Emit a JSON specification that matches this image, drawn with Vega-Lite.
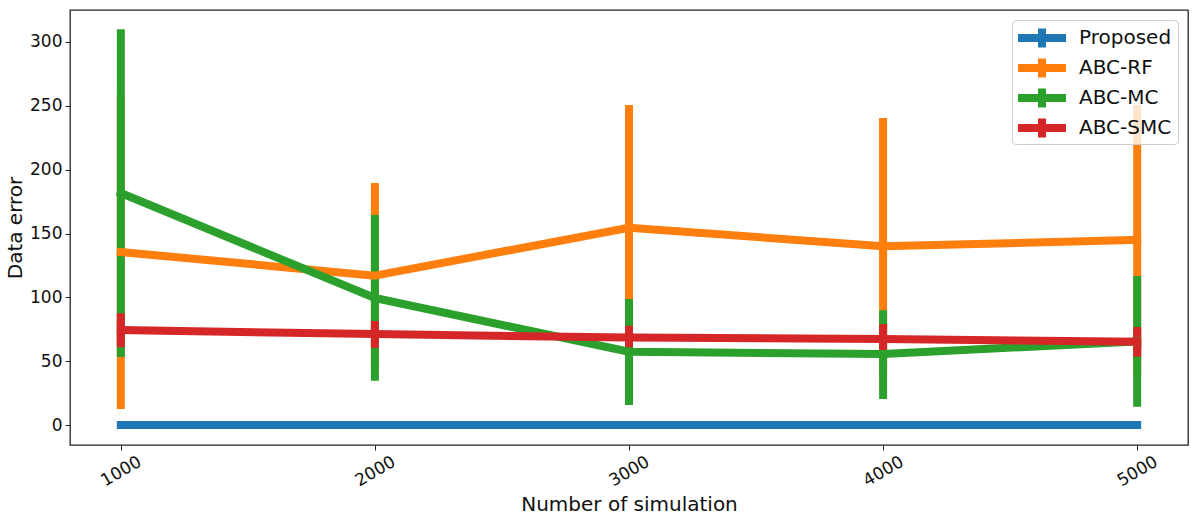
{
  "$schema": "https://vega.github.io/schema/vega-lite/v6.json",
  "autosize": {"type": "none"},
  "padding": {"left": 70, "top": 10, "right": 10, "bottom": 75},
  "width": 1118,
  "height": 435,
  "background": "white",
  "config": {
    "view": {"stroke": "#222", "strokeWidth": 1.3},
    "font": "DejaVu Sans",
    "axis": {
      "domain": false,
      "grid": false,
      "tickColor": "#222",
      "tickSize": 5,
      "tickWidth": 1,
      "labelColor": "#111",
      "labelFont": "DejaVu Sans",
      "labelFontSize": 17,
      "titleFont": "DejaVu Sans",
      "titleFontSize": 20,
      "titleFontWeight": "normal",
      "titleColor": "#111"
    }
  },
  "data": {
    "values": [
      {"series": "Proposed", "n": 1000, "err": 0, "lo": 0, "hi": 0},
      {"series": "Proposed", "n": 2000, "err": 0, "lo": 0, "hi": 0},
      {"series": "Proposed", "n": 3000, "err": 0, "lo": 0, "hi": 0},
      {"series": "Proposed", "n": 4000, "err": 0, "lo": 0, "hi": 0},
      {"series": "Proposed", "n": 5000, "err": 0, "lo": 0, "hi": 0},
      {"series": "ABC-RF", "n": 1000, "err": 135.5, "lo": 12.5, "hi": 258.5},
      {"series": "ABC-RF", "n": 2000, "err": 117, "lo": 44.5, "hi": 189.5},
      {"series": "ABC-RF", "n": 3000, "err": 154.5, "lo": 58.5, "hi": 250.6},
      {"series": "ABC-RF", "n": 4000, "err": 140, "lo": 39.5, "hi": 240.5},
      {"series": "ABC-RF", "n": 5000, "err": 145, "lo": 39.4, "hi": 250.6},
      {"series": "ABC-MC", "n": 1000, "err": 181.7, "lo": 53.3, "hi": 310},
      {"series": "ABC-MC", "n": 2000, "err": 99.5, "lo": 34.7, "hi": 164.5},
      {"series": "ABC-MC", "n": 3000, "err": 57.4, "lo": 15.7, "hi": 98.7},
      {"series": "ABC-MC", "n": 4000, "err": 55.6, "lo": 20.4, "hi": 90},
      {"series": "ABC-MC", "n": 5000, "err": 65.5, "lo": 14.4, "hi": 116.7},
      {"series": "ABC-SMC", "n": 1000, "err": 74.4, "lo": 61, "hi": 87.5},
      {"series": "ABC-SMC", "n": 2000, "err": 71.3, "lo": 60.5, "hi": 81.5},
      {"series": "ABC-SMC", "n": 3000, "err": 68.5, "lo": 60.8, "hi": 77.8},
      {"series": "ABC-SMC", "n": 4000, "err": 67.4, "lo": 58.7, "hi": 79},
      {"series": "ABC-SMC", "n": 5000, "err": 65.3, "lo": 53.5, "hi": 76.8}
    ]
  },
  "encoding": {
    "x": {
      "field": "n",
      "type": "quantitative",
      "scale": {"domain": [800, 5200], "nice": false, "zero": false},
      "axis": {
        "title": "Number of simulation",
        "values": [1000, 2000, 3000, 4000, 5000],
        "format": "d",
        "labelAngle": -30,
        "labelAlign": "center",
        "labelBaseline": "middle",
        "labelPadding": 21,
        "titlePadding": 6
      }
    },
    "color": {
      "field": "series",
      "type": "nominal",
      "sort": ["Proposed", "ABC-RF", "ABC-MC", "ABC-SMC"],
      "scale": {
        "domain": ["Proposed", "ABC-RF", "ABC-MC", "ABC-SMC"],
        "range": ["#1f77b4", "#ff7f0e", "#2ca02c", "#d62728"]
      },
      "legend": {
        "title": null,
        "orient": "none",
        "legendX": 942,
        "legendY": 10,
        "symbolType": "M-2,-0.3333H2V0.3333H-2Z M-0.3333,-0.8H0.3333V0.8H-0.3333Z",
        "symbolSize": 576,
        "symbolStrokeWidth": 0,
        "symbolOffset": 12,
        "labelFontSize": 20,
        "labelFont": "DejaVu Sans",
        "labelColor": "#111",
        "labelOffset": 25,
        "rowPadding": 8,
        "padding": 6,
        "fillColor": "rgba(255,255,255,0.8)",
        "strokeColor": "#ccc",
        "cornerRadius": 4,
        "encode": {
          "symbols": {"update": {"fill": {"scale": "color", "field": "value"}, "opacity": {"value": 1}}}
        }
      }
    }
  },
  "layer": [
    {
      "mark": {"type": "rule", "strokeWidth": 8, "strokeCap": "butt"},
      "encoding": {
        "y": {"field": "lo", "type": "quantitative"},
        "y2": {"field": "hi"}
      }
    },
    {
      "mark": {"type": "line", "strokeWidth": 8, "strokeCap": "square", "strokeJoin": "round"},
      "encoding": {
        "y": {
          "field": "err",
          "type": "quantitative",
          "scale": {"domain": [-15.6, 325], "nice": false, "zero": false},
          "axis": {
            "title": "Data error",
            "values": [0, 50, 100, 150, 200, 250, 300],
            "labelPadding": 3,
            "titlePadding": 4
          }
        }
      }
    }
  ]
}
